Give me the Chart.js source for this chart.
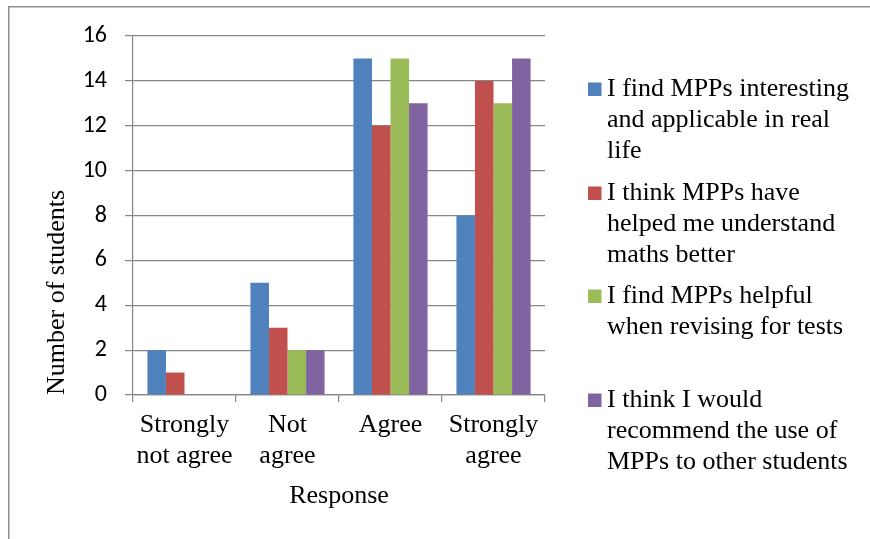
<!DOCTYPE html>
<html>
<head>
<meta charset="utf-8">
<title>Student responses to MPPs</title>
<script src="https://cdn.jsdelivr.net/npm/chart.js@4/dist/chart.umd.min.js"></script>
<style>
  html, body { margin: 0; padding: 0; background: #ffffff; }
  #wrap { width: 870px; height: 539px; }
</style>
</head>
<body>
<div id="wrap"><canvas id="chart" width="870" height="539"></canvas></div>
<script>
// Response categories (x axis), split into display lines
const categories = [
  ['Strongly', 'not agree'],
  ['Not', 'agree'],
  'Agree',
  ['Strongly', 'agree']
];

// Number of students per response, one array per statement
const interestingApplicable = [2, 5, 15, 8];
const helpedUnderstand      = [1, 3, 12, 14];
const helpfulRevising       = [0, 2, 15, 13];
const wouldRecommend        = [0, 2, 13, 15];

// Statement wording, wrapped as shown in the key
const seriesLabels = [
  ['I find MPPs interesting', 'and applicable in real', 'life'],
  ['I think MPPs have', 'helped me understand', 'maths better'],
  ['I find MPPs helpful', 'when revising for tests'],
  ['I think I would', 'recommend the use of', 'MPPs to other students']
];

const seriesColors = ['#4F81BD', '#C0504D', '#9BBB59', '#8064A2'];
const yTicks = { min: 0, max: 16, step: 2 };

const axisGray = '#868686';
const serifFamily = "'Liberation Serif'";
const tickFamily = "Carlito";

Chart.defaults.font.family = serifFamily;

// Frame around the whole figure
const framePlugin = {
  id: 'frame',
  afterDraw(chart) {
    const ctx = chart.ctx;
    ctx.save();
    ctx.strokeStyle = '#8e8e8e';
    ctx.lineWidth = 1.5;
    ctx.beginPath();
    ctx.moveTo(8.75, chart.height + 5);
    ctx.lineTo(8.75, 6.75);
    ctx.lineTo(chart.width + 5, 6.75);
    ctx.stroke();
    ctx.restore();
  }
};

// Key on the right: coloured square plus wrapped statement text
const keyPlugin = {
  id: 'sideKey',
  afterDraw(chart) {
    const ctx = chart.ctx;
    const boxX = 588, boxSize = 13.5, textX = 607;
    const firstBaselines = [96, 200, 303, 407];
    const lineStep = 31.2;
    ctx.save();
    ctx.font = "26px 'Liberation Serif'";
    ctx.textAlign = 'left';
    ctx.textBaseline = 'alphabetic';
    chart.data.datasets.forEach((ds, i) => {
      const base = firstBaselines[i];
      ctx.fillStyle = ds.backgroundColor;
      ctx.fillRect(boxX, base - boxSize, boxSize, boxSize);
      ctx.fillStyle = '#000000';
      seriesLabels[i].forEach((line, j) => {
        ctx.fillText(line, textX, base + j * lineStep);
      });
    });
    ctx.restore();
  }
};

const seriesData = [interestingApplicable, helpedUnderstand, helpfulRevising, wouldRecommend];

new Chart(document.getElementById('chart'), {
  type: 'bar',
  data: {
    labels: categories,
    datasets: seriesData.map((values, i) => ({
      label: seriesLabels[i].join(' '),
      data: values,
      backgroundColor: seriesColors[i],
      borderWidth: 0,
      categoryPercentage: 0.72,
      barPercentage: 1.0
    }))
  },
  options: {
    responsive: false,
    animation: false,
    devicePixelRatio: 1,
    layout: { padding: { top: 36, right: 325, left: 0, bottom: 0 } },
    plugins: {
      legend: { display: false },
      tooltip: { enabled: false },
      title: { display: false }
    },
    scales: {
      x: {
        offset: true,
        grid: {
          display: true,
          offset: true,
          drawOnChartArea: false,
          drawTicks: true,
          tickLength: 7,
          color: axisGray,
          lineWidth: 1.2
        },
        border: { display: true, color: axisGray, width: 1.2 },
        ticks: {
          color: '#000000',
          padding: 7,
          maxRotation: 0,
          autoSkip: false,
          font: { family: serifFamily, size: 26, lineHeight: 1.22 }
        },
        title: {
          display: true,
          text: 'Response',
          color: '#000000',
          font: { family: serifFamily, size: 26, lineHeight: 1.2 },
          padding: { top: 0, bottom: 27 }
        },
        afterFit(scale) {
          scale.height = 144;
          scale.paddingLeft = 0;
          scale.paddingRight = 0;
        }
      },
      y: {
        min: yTicks.min,
        max: yTicks.max,
        grid: {
          color: axisGray,
          lineWidth: 1.2,
          drawTicks: true,
          tickLength: 8
        },
        border: { display: true, color: axisGray, width: 1.2 },
        ticks: {
          stepSize: yTicks.step,
          color: '#000000',
          padding: 18,
          font: { family: tickFamily, size: 24 }
        },
        title: {
          display: true,
          text: 'Number of students',
          align: 'start',
          color: '#000000',
          font: { family: serifFamily, size: 26, lineHeight: 1.2 },
          padding: { top: 42, bottom: 0 }
        },
        afterFit(scale) {
          scale.width = 133;
          scale.paddingTop = 0;
          scale.paddingBottom = 0;
        }
      }
    }
  },
  plugins: [framePlugin, keyPlugin]
});
</script>
</body>
</html>
